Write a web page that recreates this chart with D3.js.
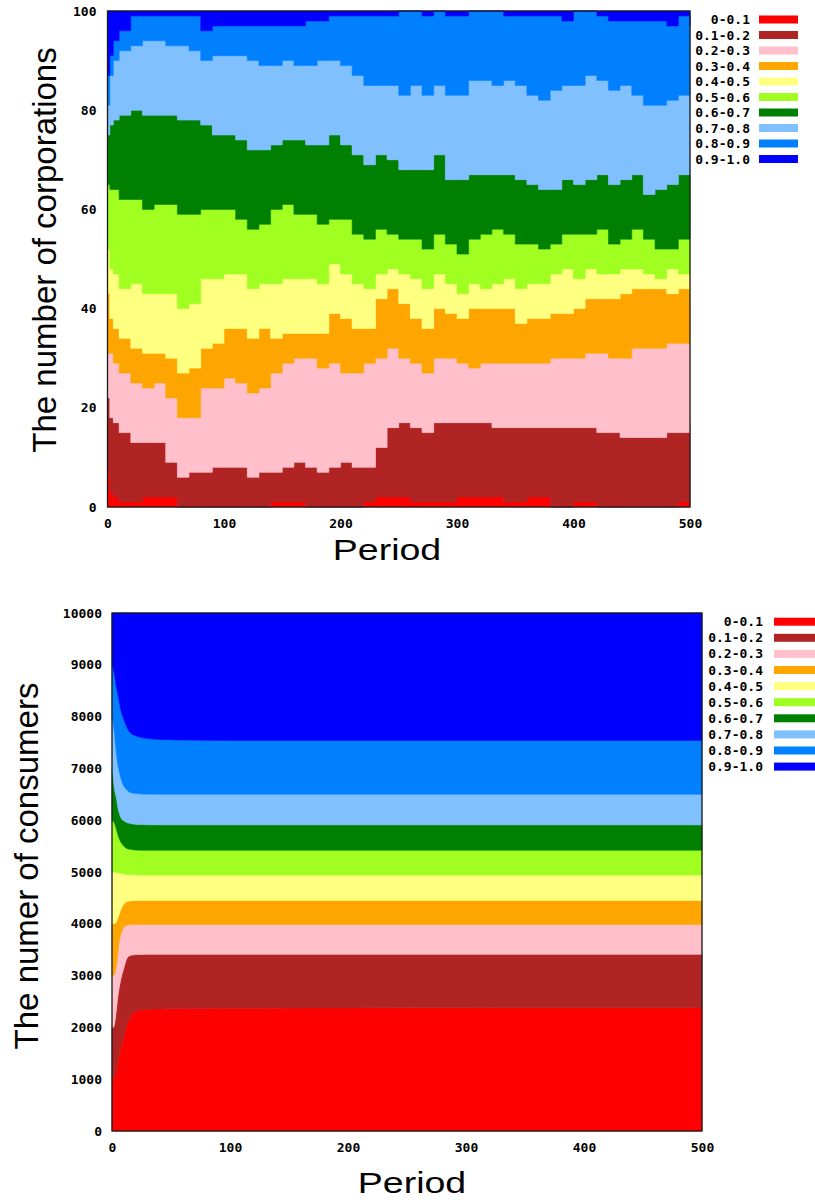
<!DOCTYPE html>
<html>
<head>
<meta charset="utf-8">
<script src="https://cdn.jsdelivr.net/npm/d3@7.9.0/dist/d3.min.js"></script>
<style>
  html, body { margin: 0; padding: 0; background: #fff; }
  svg { display: block; }
  .tick-label { font-family: "DejaVu Sans Mono", monospace; font-weight: bold; font-size: 13px; fill: #000; }
  .axis-title { font-family: "Liberation Sans", Arial, sans-serif; fill: #000; }
</style>
</head>
<body>
<svg id="chart" width="815" height="1202"></svg>
<script>
// legend labels and fill colours, bottom band first
const bandLabels = ['0-0.1', '0.1-0.2', '0.2-0.3', '0.3-0.4', '0.4-0.5',
                    '0.5-0.6', '0.6-0.7', '0.7-0.8', '0.8-0.9', '0.9-1.0'];
const bandColors = ['#ff0000', '#b02424', '#ffc0cb', '#ffa500', '#ffff80',
                    '#a0ff20', '#008000', '#80c0ff', '#0080ff', '#0000ff'];

// ---- top chart: number of corporations per band ----
const corpPeriods = [0, 2, 5, 10, 20, 30, 40, 50, 60, 70, 80, 90, 100, 110, 120, 130, 140, 150,
  160, 170, 180, 190, 200, 210, 220, 230, 240, 250, 260, 270, 280, 290, 300, 310, 320, 330,
  340, 350, 360, 370, 380, 390, 400, 410, 420, 430, 440, 450, 460, 470, 480, 490, 500];
const corp00_01 = [7, 3, 2, 1, 1, 2, 2, 2, 0, 0, 0, 0, 0, 0, 0, 0, 1, 1, 1, 0, 0, 0, 0, 0, 1, 2, 2,
  2, 1, 1, 1, 1, 2, 2, 2, 2, 1, 1, 2, 2, 0, 0, 1, 1, 0, 0, 0, 0, 0, 0, 0, 1, 1];
const corp01_02 = [15, 15, 15, 14, 12, 11, 11, 7, 6, 7, 7, 8, 8, 8, 6, 7, 6, 7, 8, 8, 7, 8, 9, 8, 7,
  10, 14, 15, 15, 14, 16, 16, 15, 15, 15, 14, 15, 15, 14, 14, 16, 16, 15, 15, 15, 15, 14, 14, 14,
  14, 15, 14, 16];
const corp02_03 = [9, 13, 12, 12, 12, 11, 12, 13, 12, 11, 17, 16, 18, 17, 17, 17, 20, 21, 21, 22, 21,
  21, 18, 19, 21, 18, 16, 13, 13, 12, 13, 13, 12, 11, 12, 13, 13, 13, 13, 13, 14, 14, 14, 15, 16,
  15, 16, 18, 18, 18, 18, 18, 16];
const corp03_04 = [12, 7, 7, 7, 7, 7, 6, 8, 9, 10, 8, 9, 10, 11, 11, 12, 7, 6, 5, 5, 7, 10, 11, 9, 7,
  12, 12, 11, 9, 9, 10, 9, 9, 12, 11, 11, 11, 8, 9, 9, 9, 9, 10, 11, 11, 12, 13, 12, 12, 12, 10,
  11, 10];
const corp04_05 = [9, 10, 11, 10, 13, 12, 12, 13, 13, 13, 14, 13, 11, 11, 10, 9, 11, 11, 11, 11, 10,
  10, 9, 9, 8, 5, 4, 6, 8, 8, 7, 6, 5, 5, 4, 5, 6, 7, 7, 7, 8, 9, 6, 6, 5, 5, 5, 4, 3, 2, 5, 3, 5];
const corp05_06 = [13, 16, 17, 18, 17, 17, 18, 18, 19, 18, 14, 14, 13, 11, 12, 12, 15, 15, 13, 13, 12,
  9, 11, 10, 10, 9, 7, 7, 8, 8, 8, 8, 8, 9, 11, 11, 9, 9, 8, 7, 6, 7, 9, 7, 9, 6, 6, 8, 7, 6, 4,
  7, 6];
const corp06_07 = [10, 13, 14, 17, 18, 19, 18, 18, 19, 19, 17, 15, 15, 16, 16, 15, 13, 13, 15, 14, 16,
  17, 15, 16, 15, 15, 15, 14, 14, 16, 16, 13, 15, 13, 12, 11, 12, 13, 12, 12, 11, 11, 10, 11, 11,
  12, 12, 11, 9, 12, 13, 13, 13];
const corp07_08 = [6, 10, 12, 13, 13, 15, 15, 14, 15, 14, 13, 16, 16, 17, 18, 17, 16, 16, 15, 16, 17,
  15, 16, 16, 16, 14, 15, 15, 17, 15, 14, 17, 17, 19, 19, 18, 19, 19, 18, 18, 20, 19, 20, 21, 19,
  19, 19, 16, 18, 17, 17, 16, 16];
const corp08_09 = [6, 4, 4, 4, 6, 5, 5, 6, 6, 7, 6, 6, 6, 6, 7, 8, 8, 7, 8, 9, 8, 9, 10, 12, 14, 14,
  14, 17, 15, 16, 15, 16, 16, 14, 14, 15, 13, 14, 16, 17, 15, 13, 15, 13, 13, 14, 13, 15, 17, 17,
  15, 16, 14];
const corp09_10 = [13, 9, 6, 4, 1, 1, 1, 1, 1, 1, 4, 3, 3, 3, 3, 3, 3, 3, 3, 2, 2, 1, 1, 1, 1, 1, 1,
  0, 0, 1, 0, 1, 1, 0, 0, 0, 1, 1, 1, 1, 1, 2, 0, 0, 1, 2, 2, 2, 2, 2, 3, 1, 3];
const corpTicksY = [0, 20, 40, 60, 80, 100];
const corpTicksX = [0, 100, 200, 300, 400, 500];

// ---- bottom chart: number of consumers per band ----
const consPeriods = [0, 1, 2, 3, 4, 5, 6, 8, 10, 12, 15, 20, 25, 30, 40, 70, 100, 200, 300, 400, 500];
const cons00_01 = [1000, 1000, 1050, 1100, 1200, 1330, 1450, 1650, 1820, 2000, 2180, 2310, 2340, 2350,
  2355, 2365, 2370, 2375, 2378, 2380, 2380];
const cons01_02 = [1000, 1000, 1000, 1100, 1200, 1270, 1300, 1330, 1320, 1300, 1205, 1095, 1068, 1060,
  1055, 1045, 1040, 1035, 1032, 1030, 1030];
const cons02_03 = [1000, 1000, 970, 880, 850, 850, 900, 850, 790, 665, 595, 580, 577, 575, 575, 575,
  575, 575, 575, 575, 575];
const cons03_04 = [1000, 1000, 980, 940, 800, 660, 530, 470, 450, 455, 460, 465, 465, 465, 465, 465,
  465, 465, 465, 465, 465];
const cons04_05 = [1000, 1000, 1000, 975, 940, 880, 805, 675, 580, 535, 510, 495, 490, 490, 490, 490,
  490, 490, 490, 490, 490];
const cons05_06 = [1000, 980, 950, 885, 810, 730, 665, 585, 540, 505, 490, 480, 480, 480, 480, 480,
  480, 480, 480, 480, 480];
const cons06_07 = [1000, 870, 670, 620, 600, 530, 500, 470, 490, 500, 500, 495, 495, 492, 490, 490,
  490, 490, 490, 490, 490];
const cons07_08 = [1000, 1030, 1080, 950, 830, 810, 800, 740, 670, 640, 600, 595, 590, 590, 590, 590,
  590, 590, 590, 590, 590];
const cons08_09 = [1000, 1050, 1130, 1230, 1300, 1370, 1350, 1310, 1290, 1230, 1160, 1115, 1090, 1073,
  1060, 1045, 1040, 1040, 1040, 1040, 1040];
const cons09_10 = [1000, 1070, 1170, 1320, 1470, 1570, 1700, 1920, 2050, 2170, 2300, 2370, 2405, 2425,
  2440, 2455, 2460, 2460, 2460, 2460, 2460];
const consTicksY = [0, 1000, 2000, 3000, 4000, 5000, 6000, 7000, 8000, 9000, 10000];
const consTicksX = [0, 100, 200, 300, 400, 500];

const svg = d3.select('#chart');

function drawChart(opt) {
  const rows = opt.periods.map((p, i) => {
    const r = { period: p };
    opt.series.forEach((s, k) => { r[k] = s[i]; });
    return r;
  });
  const keys = d3.range(opt.series.length);
  const stacked = d3.stack().keys(keys)(rows);

  const x = d3.scaleLinear().domain([0, 500]).range([opt.left, opt.right]);
  const y = d3.scaleLinear().domain(opt.yDomain).range([opt.bottom, opt.top]);

  const area = d3.area()
    .curve(opt.curve)
    .x(d => x(d.data.period))
    .y0(d => y(d[0]))
    .y1(d => y(d[1]));

  const g = svg.append('g');

  g.selectAll('path.band')
    .data(stacked)
    .enter()
    .append('path')
    .attr('class', 'band')
    .attr('d', area)
    .attr('fill', (d, i) => bandColors[i])
    .attr('stroke', (d, i) => bandColors[i])
    .attr('stroke-width', 0.6);

  // border
  g.append('rect')
    .attr('x', opt.left)
    .attr('y', opt.top)
    .attr('width', opt.right - opt.left)
    .attr('height', opt.bottom - opt.top)
    .attr('fill', 'none')
    .attr('stroke', '#1a1a1a')
    .attr('stroke-width', 1.3);

  // axes
  const fmt = d3.format('d');
  const yAxis = g.append('g')
    .attr('transform', `translate(${opt.left},0)`)
    .call(d3.axisLeft(y).tickValues(opt.ticksY).tickFormat(fmt).tickSize(0).tickPadding(opt.yPad));
  const xAxis = g.append('g')
    .attr('transform', `translate(0,${opt.bottom})`)
    .call(d3.axisBottom(x).tickValues(opt.ticksX).tickFormat(fmt).tickSize(0).tickPadding(opt.xPad));
  [yAxis, xAxis].forEach(a => {
    a.select('.domain').remove();
    a.selectAll('text').attr('class', 'tick-label').attr('fill', null);
    a.attr('font-family', null).attr('font-size', null);
  });

  // legend
  bandLabels.forEach((lab, i) => {
    const cy = opt.legTop + i * opt.legStep;
    g.append('text')
      .attr('class', 'tick-label')
      .attr('x', opt.legTextX)
      .attr('y', cy)
      .attr('dy', '0.35em')
      .attr('text-anchor', 'end')
      .text(lab);
    g.append('rect')
      .attr('x', opt.legSwX)
      .attr('y', cy - 4)
      .attr('width', opt.legSwW)
      .attr('height', 8)
      .attr('fill', bandColors[i]);
  });

  // titles
  g.append('text')
    .attr('class', 'axis-title')
    .attr('font-size', 33)
    .attr('text-anchor', 'middle')
    .attr('transform', `translate(${opt.yTitleX},${opt.yTitleY}) rotate(-90)`)
    .text(opt.yTitle);
  g.append('text')
    .attr('class', 'axis-title')
    .attr('font-size', 30)
    .attr('text-anchor', 'middle')
    .attr('transform', `translate(${opt.xTitleX},${opt.xTitleY}) scale(1.25,1)`)
    .text('Period');
}

drawChart({
  periods: corpPeriods,
  series: [corp00_01, corp01_02, corp02_03, corp03_04, corp04_05,
           corp05_06, corp06_07, corp07_08, corp08_09, corp09_10],
  yDomain: [0, 100], ticksY: corpTicksY, ticksX: corpTicksX,
  curve: d3.curveStepAfter,
  left: 107.5, right: 690, top: 11, bottom: 507,
  yPad: 11, xPad: 12,
  legTop: 19.5, legStep: 15.5, legTextX: 750, legSwX: 759, legSwW: 39,
  yTitle: 'The number of corporations', yTitleX: 56, yTitleY: 250,
  xTitleX: 387, xTitleY: 560
});

drawChart({
  periods: consPeriods,
  series: [cons00_01, cons01_02, cons02_03, cons03_04, cons04_05,
           cons05_06, cons06_07, cons07_08, cons08_09, cons09_10],
  yDomain: [0, 10000], ticksY: consTicksY, ticksX: consTicksX,
  curve: d3.curveMonotoneX,
  left: 112, right: 702, top: 613, bottom: 1131,
  yPad: 10, xPad: 12,
  legTop: 621.7, legStep: 16.1, legTextX: 763, legSwX: 774, legSwW: 41,
  yTitle: 'The numer of consumers', yTitleX: 38, yTitleY: 866,
  xTitleX: 412, xTitleY: 1193
});
</script>
</body>
</html>
